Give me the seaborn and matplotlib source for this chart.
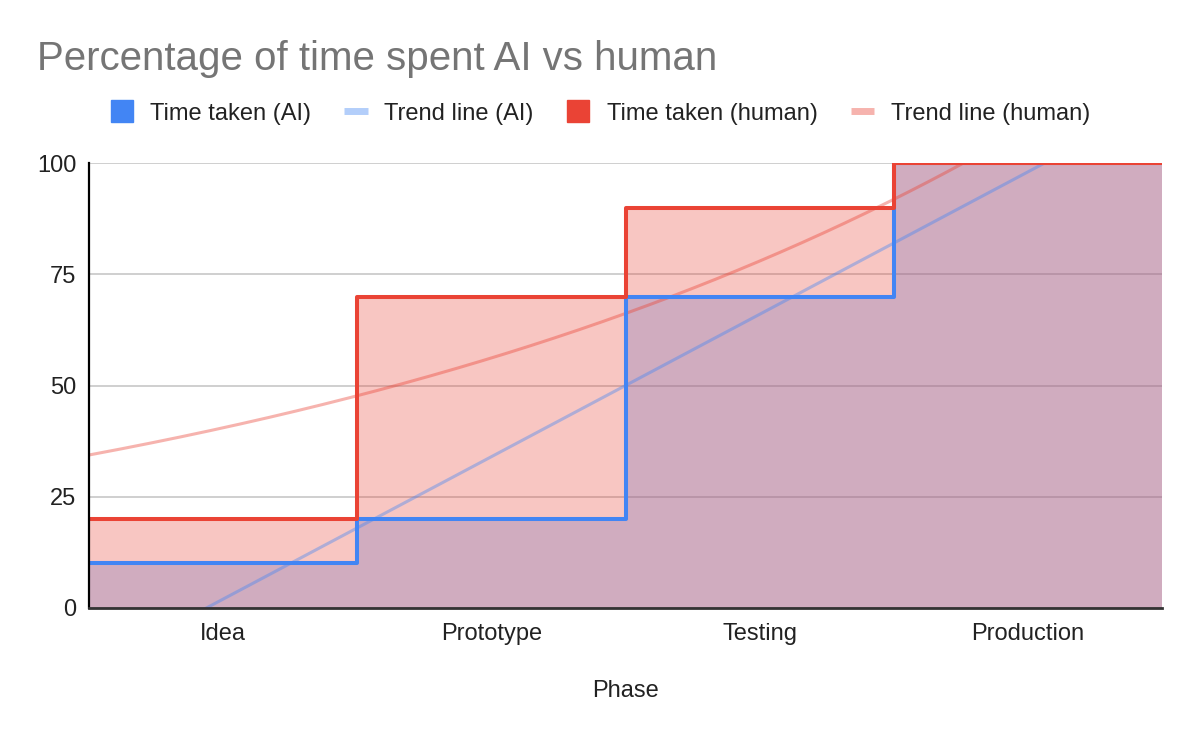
import numpy as np
import pandas as pd
import matplotlib
matplotlib.use("Agg")
import matplotlib.pyplot as plt
from matplotlib.lines import Line2D
import seaborn as sns

# Chart data
phases = ["Idea", "Prototype", "Testing", "Production"]
time_ai = [10, 20, 70, 100]
time_human = [20, 70, 90, 100]

BLUE = "#4285f4"
RED = "#ea4335"

sns.set_theme(style="white")
plt.rcParams["font.family"] = ["Liberation Sans", "DejaVu Sans"]


# Linear trend (AI) and exponential trend (human), fitted on category index 1..n
def linear_trend(values):
    idx = np.arange(1, len(values) + 1)
    slope, intercept = np.polyfit(idx, values, 1)
    return lambda t: slope * t + intercept


def exp_trend(values):
    idx = np.arange(1, len(values) + 1)
    y = np.asarray(values, dtype=float)
    best = None
    for b in np.linspace(0.01, 1.5, 3000):
        e = np.exp(b * idx)
        a = (y * e).sum() / (e * e).sum()
        err = ((y - a * e) ** 2).sum()
        if best is None or err < best[0]:
            best = (err, a, b)
    _, a, b = best
    return lambda t: a * np.exp(b * t)


n = len(phases)
edges = np.arange(n + 1)
step_df = pd.DataFrame({
    "x": edges,
    "ai": time_ai + [time_ai[-1]],
    "human": time_human + [time_human[-1]],
})

pos = np.linspace(0, n, 400)
trend_df = pd.DataFrame({
    "x": pos,
    "ai": linear_trend(time_ai)(pos + 0.5),
    "human": exp_trend(time_human)(pos + 0.5),
})

fig = plt.figure(figsize=(12, 7.42), dpi=100)
ax = fig.add_axes([0.0742, 0.1806, 0.8941, 0.5997])

# Stepped areas
ax.fill_between(step_df["x"], 0, step_df["ai"], step="post", color=BLUE, alpha=0.3, lw=0)
ax.fill_between(step_df["x"], 0, step_df["human"], step="post", color=RED, alpha=0.3, lw=0)

# Trend lines
sns.lineplot(data=trend_df, x="x", y="ai", ax=ax, color=BLUE, alpha=0.4, lw=2.2)
sns.lineplot(data=trend_df, x="x", y="human", ax=ax, color=RED, alpha=0.4, lw=2.2)

# Step lines
sns.lineplot(data=step_df, x="x", y="ai", ax=ax, color=BLUE, lw=2.9,
             drawstyle="steps-post", solid_joinstyle="round")
sns.lineplot(data=step_df, x="x", y="human", ax=ax, color=RED, lw=2.9,
             drawstyle="steps-post", solid_joinstyle="round")

ax.set_xlim(0, n)
ax.set_ylim(0, 100)
ax.set_yticks([0, 25, 50, 75, 100])
ax.set_xticks(np.arange(n) + 0.5)
ax.set_xticklabels(phases)
ax.tick_params(axis="both", labelsize=17, colors="#222222", length=0)
ax.tick_params(axis="y", pad=9)
ax.tick_params(axis="x", pad=11)
ax.yaxis.grid(True, color="#cccccc", lw=1.3)
ax.set_axisbelow(True)
ax.set_ylabel("")
ax.set_xlabel("Phase", fontsize=17, color="#222222", labelpad=25)

sns.despine(ax=ax, top=True, right=True)
ax.spines["left"].set_color("black")
ax.spines["left"].set_linewidth(1.6)
ax.spines["bottom"].set_color("#333333")
ax.spines["bottom"].set_linewidth(2)

fig.text(0.031, 0.905, "Percentage of time spent AI vs human", fontsize=29,
         color="#757575", ha="left", va="baseline")

handles = [
    Line2D([], [], ls="none", marker="s", markersize=16.5, color=BLUE),
    Line2D([], [], color=BLUE, alpha=0.4, lw=5, solid_capstyle="butt"),
    Line2D([], [], ls="none", marker="s", markersize=16.5, color=RED),
    Line2D([], [], color=RED, alpha=0.4, lw=5, solid_capstyle="butt"),
]
labels = ["Time taken (AI)", "Trend line (AI)", "Time taken (human)", "Trend line (human)"]
fig.legend(handles, labels, loc="center", bbox_to_anchor=(0.5, 0.847), ncol=4,
           frameon=False, fontsize=17, handlelength=1.0, handletextpad=0.7,
           columnspacing=1.4, labelcolor="#222222")

fig.savefig("out.png", dpi=100)
